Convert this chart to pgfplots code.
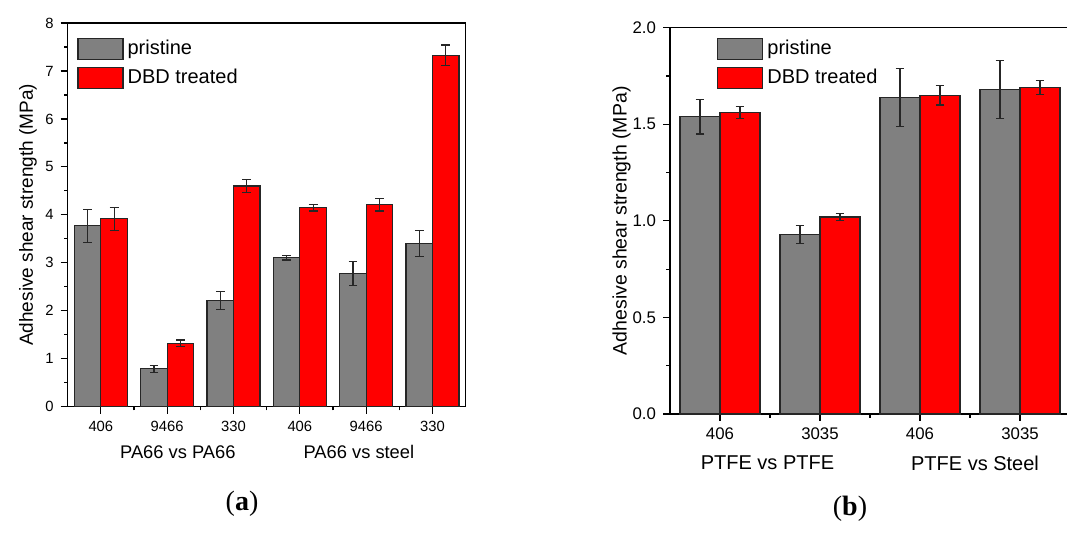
\documentclass[border=0pt]{standalone}
\usepackage{pgfplots}
\pgfplotsset{compat=1.18}
\usepackage{pgfplotstable}
\usepackage{fontspec}
\setmainfont{Liberation Sans}
\newfontfamily\capfont{Liberation Serif}
\definecolor{pgray}{RGB}{128,128,128}
\definecolor{pred}{RGB}{255,0,0}

\pgfplotstableread{
x p pe d de
0 3.77 0.34 3.92 0.24
1 0.79 0.07 1.32 0.07
2 2.22 0.19 4.60 0.13
3 3.11 0.05 4.15 0.07
4 2.77 0.25 4.21 0.13
5 3.40 0.27 7.33 0.21
}\dataA

\pgfplotstableread{
x p pe d de
0 1.54 0.09 1.56 0.03
1 0.93 0.047 1.02 0.02
2 1.64 0.15 1.65 0.05
3 1.68 0.15 1.69 0.035
}\dataB

\pgfplotsset{
  common/.style={
    scale only axis,
    clip=false,
    axis line style={black, line width=0.75pt},
    ybar, bar width=0.4,
    ymin=0,
    xtick pos=bottom, ytick pos=left,
    tick align=outside,
    major tick length=3.5pt, minor tick length=1.8pt,
    every tick/.style={black, line width=0.6pt},
    /pgf/number format/assume math mode=true,
    legend cell align=left,
    legend style={draw=none, fill=none, anchor=north west, inner sep=0pt, row sep=1.75pt,
      font=\fontsize{10}{12}\selectfont},
    ylabel={Adhesive shear strength (MPa)},
  },
  barP/.style={fill=pgray, draw=black!85, line width=0.6pt, bar shift=-0.2,
    legend image code/.code={\draw[fill=pgray,draw=black!85,line width=0.6pt] (0pt,-5.25pt) rectangle (22.5pt,5.25pt);},
    error bars/.cd, y dir=both, y explicit,
    error bar style={black!85, line width=0.6pt},
    error mark options={rotate=90, mark size=2.2pt, line width=0.6pt, black!85}},
  barD/.style={fill=pred, draw=black!85, line width=0.6pt, bar shift=0.2,
    legend image code/.code={\draw[fill=pred,draw=black!85,line width=0.6pt] (0pt,-5.25pt) rectangle (22.5pt,5.25pt);},
    error bars/.cd, y dir=both, y explicit,
    error bar style={black!85, line width=0.6pt},
    error mark options={rotate=90, mark size=2.2pt, line width=0.6pt, black!85}},
}

\begin{document}
\begin{tikzpicture}
\useasboundingbox (0,0) rectangle (533.5pt,270.5pt);

% ---------- panel (a) ----------
\begin{axis}[common,
  at={(33.85pt,67.15pt)}, anchor=south west,
  width=199pt, height=191.85pt,
  xmin=-0.5, xmax=5.5, ymax=8,
  xtick={0,1,2,3,4,5},
  xticklabels={406,9466,330,406,9466,330},
  minor xtick={0.5,1.5,2.5,3.5,4.5},
  ytick={0,1,...,8}, minor y tick num=1,
  ticklabel style={font=\fontsize{7.4}{9}\selectfont},
  ylabel style={at={(axis description cs:-0.0997,0.5)}, anchor=center, font=\fontsize{9.5}{11}\selectfont},
  legend style={at={(axis description cs:0.0234,0.966)}},
]
\addplot[barP] table[x=x, y=p, y error=pe]{\dataA};
\addplot[barD] table[x=x, y=d, y error=de]{\dataA};
\legend{pristine, DBD treated}
\node[font=\fontsize{9.15}{11}\selectfont] at (axis cs:1.16,0) [yshift=-22.65pt] {PA66 vs PA66};
\node[font=\fontsize{9.15}{11}\selectfont] at (axis cs:3.89,0) [yshift=-22.65pt] {PA66 vs steel};
\end{axis}

% ---------- panel (b) ----------
\begin{axis}[common,
  at={(335pt,63.5pt)}, anchor=south west,
  width=200pt, height=193.15pt,
  xmin=-0.5, xmax=3.5, ymax=2,
  xtick={0,1,2,3},
  xticklabels={406,3035,406,3035},
  minor xtick={0.5,1.5,2.5},
  ytick={0,0.5,1,1.5,2}, minor y tick num=1,
  yticklabel style={/pgf/number format/.cd, fixed, fixed zerofill, precision=1},
  ticklabel style={font=\fontsize{8.4}{10}\selectfont},
  ylabel style={at={(axis description cs:-0.1208,0.5)}, anchor=center, font=\fontsize{9.75}{11}\selectfont},
  legend style={at={(axis description cs:0.117,0.9785)}},
]
\addplot[barP] table[x=x, y=p, y error=pe]{\dataB};
\addplot[barD] table[x=x, y=d, y error=de]{\dataB};
\legend{pristine, DBD treated}
\node[font=\fontsize{10}{12}\selectfont] at (axis cs:0.475,0) [yshift=-24.5pt] {PTFE vs PTFE};
\node[font=\fontsize{10}{12}\selectfont] at (axis cs:2.55,0) [yshift=-24.5pt] {PTFE vs Steel};
\end{axis}

\node[font=\capfont\fontsize{14}{16}\selectfont] at (121pt,18.5pt) {(\textbf{a})};
\node[font=\capfont\fontsize{14}{16}\selectfont] at (425pt,16pt) {(\textbf{b})};
\end{tikzpicture}
\end{document}
